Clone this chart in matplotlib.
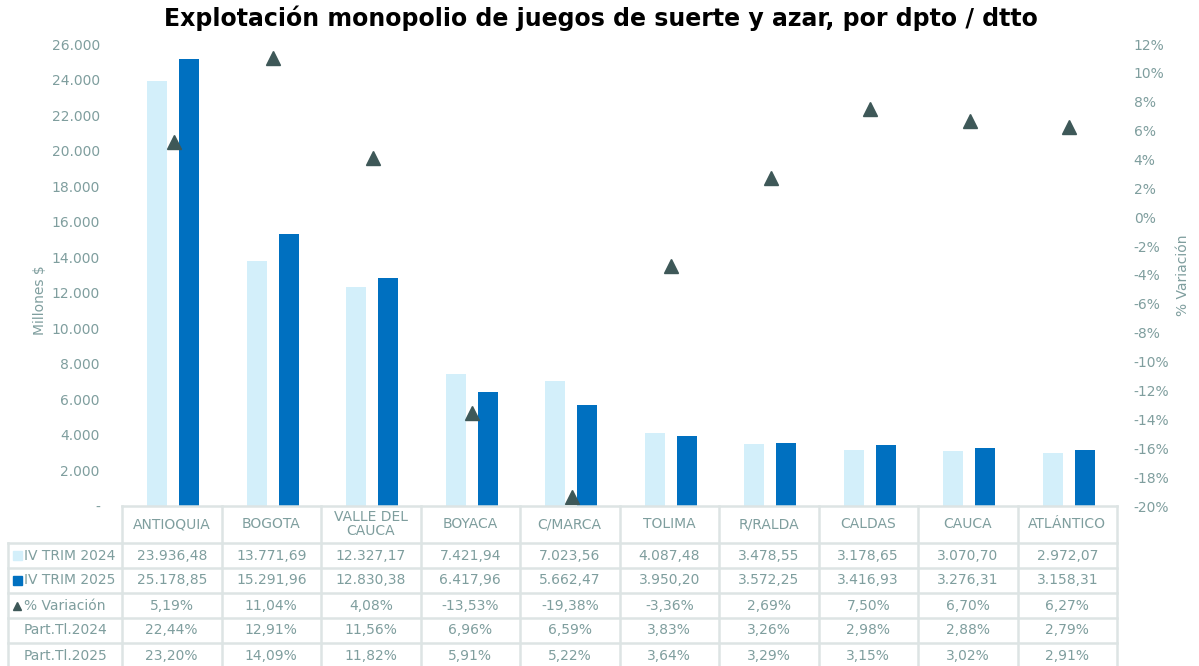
import numpy as np
import matplotlib.pyplot as plt
from matplotlib.patches import Rectangle

categories = ['ANTIOQUIA', 'BOGOTA', 'VALLE DEL\nCAUCA', 'BOYACA', 'C/MARCA',
              'TOLIMA', 'R/RALDA', 'CALDAS', 'CAUCA', 'ATLÁNTICO']
trim_2024 = [23936.48, 13771.69, 12327.17, 7421.94, 7023.56,
             4087.48, 3478.55, 3178.65, 3070.70, 2972.07]
trim_2025 = [25178.85, 15291.96, 12830.38, 6417.96, 5662.47,
             3950.20, 3572.25, 3416.93, 3276.31, 3158.31]
variacion = [5.19, 11.04, 4.08, -13.53, -19.38, -3.36, 2.69, 7.50, 6.70, 6.27]
part_2024 = [22.44, 12.91, 11.56, 6.96, 6.59, 3.83, 3.26, 2.98, 2.88, 2.79]
part_2025 = [23.20, 14.09, 11.82, 5.91, 5.22, 3.64, 3.29, 3.15, 3.02, 2.91]

c_light = '#d3effa'
c_dark = '#0070c0'
c_tri = '#3e5858'
c_text = '#7f9e9e'
c_grid = '#dde4e4'

W, H = 1199, 666


def fmt_num(v, dec=2):
    s = f'{v:,.{dec}f}'
    return s.replace(',', 'X').replace('.', ',').replace('X', '.')


def fx(px):
    return px / W


def fy(py):
    return 1 - py / H


plt.rcParams['font.family'] = 'DejaVu Sans'
fig = plt.figure(figsize=(W / 100, H / 100), dpi=100)
ax = fig.add_axes([fx(122), fy(506), fx(1117) - fx(122), fy(44) - fy(506)])

x = np.arange(len(categories))
ax.bar(x - 0.145, trim_2024, width=0.2, color=c_light)
ax.bar(x + 0.175, trim_2025, width=0.2, color=c_dark)
ax.set_xlim(-0.5, len(categories) - 0.5)
ax.set_ylim(0, 26000)
yt = np.arange(0, 26001, 2000)
ax.set_yticks(yt)
ax.set_yticklabels(['-'] + [fmt_num(v, 0) for v in yt[1:]])
ax.set_xticks([])
ax.tick_params(axis='y', length=0, colors=c_text, labelsize=10, pad=16)
for s in ax.spines.values():
    s.set_visible(False)
ax.set_ylabel('Millones $', color=c_text, fontsize=10)
ax.yaxis.set_label_coords(-0.075, 0.446)

ax2 = ax.twinx()
ax2.plot(x + 0.02, variacion, linestyle='none', marker='^', markersize=9.5, color=c_tri)
ax2.set_ylim(-20, 12)
pt = np.arange(-20, 13, 2)
ax2.set_yticks(pt)
ax2.set_yticklabels([f'{v}%' for v in pt])
ax2.tick_params(axis='y', length=0, colors=c_text, labelsize=10, pad=12)
for s in ax2.spines.values():
    s.set_visible(False)
ax2.set_ylabel('% Variación', color=c_text, fontsize=10)
ax2.yaxis.set_label_coords(1.059, 0.5)

fig.text(fx(601), fy(18), 'Explotación monopolio de juegos de suerte y azar, por dpto / dtto',
         ha='center', va='center', fontsize=17, fontweight='bold', color='black')

# data table below the chart
row_lines = [506, 543, 568, 593, 618, 643, 668]
col_edges = [122 + i * (1117 - 122) / len(categories) for i in range(len(categories) + 1)]
lw = 1.8
fig.add_artist(plt.Line2D([fx(122), fx(1117)], [fy(506), fy(506)], color=c_grid, lw=lw))
for yl in row_lines[1:]:
    fig.add_artist(plt.Line2D([fx(8), fx(1117)], [fy(yl), fy(yl)], color=c_grid, lw=lw))
for xe in col_edges:
    fig.add_artist(plt.Line2D([fx(xe), fx(xe)], [fy(506), fy(668)], color=c_grid, lw=lw))
fig.add_artist(plt.Line2D([fx(8), fx(8)], [fy(543), fy(668)], color=c_grid, lw=lw))

for i, c in enumerate(categories):
    fig.text(fx((col_edges[i] + col_edges[i + 1]) / 2), fy(524), c, ha='center', va='center',
             fontsize=10, color=c_text, linespacing=1.0)

rows = [
    ('IV TRIM 2024', [fmt_num(v) for v in trim_2024]),
    ('IV TRIM 2025', [fmt_num(v) for v in trim_2025]),
    ('% Variación', [fmt_num(v) + '%' for v in variacion]),
    ('Part.Tl.2024', [fmt_num(v) + '%' for v in part_2024]),
    ('Part.Tl.2025', [fmt_num(v) + '%' for v in part_2025]),
]
for r, (label, vals) in enumerate(rows):
    yc = (row_lines[r + 1] + row_lines[r + 2]) / 2
    for i, v in enumerate(vals):
        fig.text(fx((col_edges[i] + col_edges[i + 1]) / 2), fy(yc), v, ha='center', va='center',
                 fontsize=10, color=c_text)
    fig.text(fx(24), fy(yc), label, ha='left', va='center', fontsize=10, color=c_text)

# legend keys in row labels
for r, col in [(0, c_light), (1, c_dark)]:
    yc = (row_lines[r + 1] + row_lines[r + 2]) / 2
    fig.add_artist(Rectangle((fx(13), fy(yc + 4.5)), fx(9), fy(0) - fy(9), color=col,
                             transform=fig.transFigure))
yc = (row_lines[3] + row_lines[4]) / 2
fig.add_artist(plt.Line2D([fx(17)], [fy(yc)], marker='^', markersize=6, color=c_tri, linestyle='none'))

fig.savefig('out.png', dpi=100)
